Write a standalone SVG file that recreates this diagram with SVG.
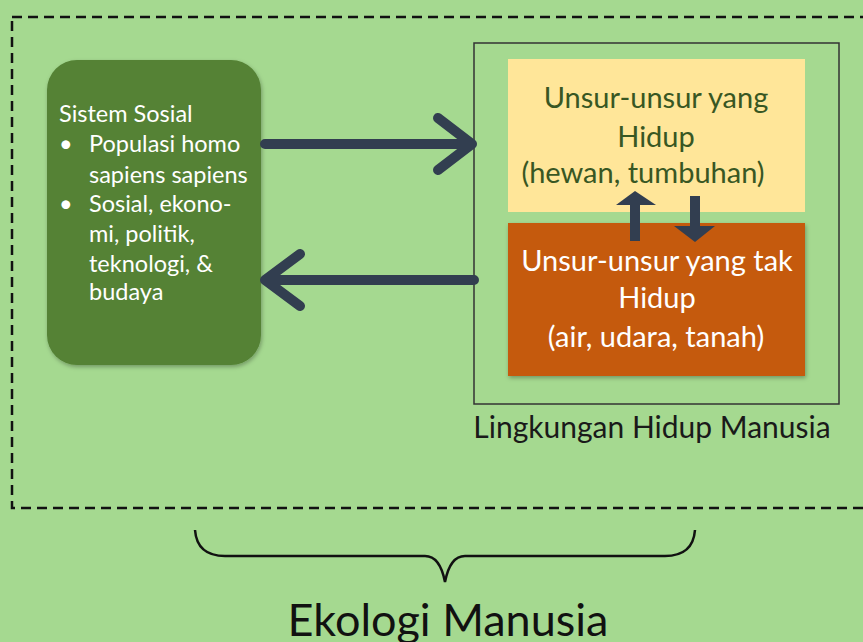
<svg xmlns="http://www.w3.org/2000/svg" width="863" height="642" viewBox="0 0 863 642">
<defs>
<style>
.t{font-family:Lato,"Open Sans","Liberation Sans",sans-serif}
.wh{fill:#ffffff}
.conn{stroke:#323E50;stroke-width:10;fill:none;stroke-linecap:round;stroke-linejoin:round}
</style>
<filter id="sh" x="-10%" y="-10%" width="120%" height="120%">
<feDropShadow dx="1" dy="2" stdDeviation="2" flood-color="#000" flood-opacity="0.3"/>
</filter>
</defs>
<rect x="0" y="0" width="863" height="642" fill="#A5D990"/>
<rect id="ekologi-frame" x="12" y="17" width="900" height="491" fill="none" stroke="#111" stroke-width="2.5" stroke-dasharray="10,6"/>
<g id="sistem-sosial">
<rect x="47" y="60" width="214" height="305" rx="30" fill="#548235" filter="url(#sh)"/>
<text class="t wh" font-size="23.5" x="59" y="122">Sistem Sosial</text>
<g class="t wh" font-size="23.5">
<text x="59" y="152">•</text>
<text x="89" y="152">Populasi homo</text>
<text x="89" y="183">sapiens sapiens</text>
<text x="59" y="212">•</text>
<text x="89" y="212">Sosial, ekono-</text>
<text x="89" y="242">mi, politik,</text>
<text x="89" y="272">teknologi, &amp;</text>
<text x="89" y="300">budaya</text>
</g>
</g>
<g id="lingkungan">
<rect x="474" y="43" width="365" height="361" fill="none" stroke="#333" stroke-width="1.5"/>
<text class="t" font-size="30" fill="#1a1a1a" x="652" y="438" text-anchor="middle">Lingkungan Hidup Manusia</text>
</g>
<g id="hidup">
<rect x="508" y="59" width="297" height="153" fill="#FFE699"/>
<g class="t" font-size="29" fill="#385723" text-anchor="middle">
<text x="656" y="108">Unsur-unsur yang</text>
<text x="656" y="147">Hidup</text>
<text x="643" y="183">(hewan, tumbuhan)</text>
</g>
</g>
<g id="tak-hidup">
<rect x="508" y="223" width="297" height="153" fill="#C55A11" filter="url(#sh)"/>
<g class="t wh" font-size="29" text-anchor="middle">
<text x="657" y="271">Unsur-unsur yang tak</text>
<text x="657" y="308">Hidup</text>
<text x="656" y="347">(air, udara, tanah)</text>
</g>
</g>
<g id="connectors">
<path class="conn" d="M265 144 H472 M438 118 L472 144 L438 170"/>
<path class="conn" d="M474 280 H265 M300 254 L265 280 L300 306"/>
<rect x="630" y="204" width="10" height="37" fill="#323E50"/>
<polygon points="616,205 656,205 635,191" fill="#323E50"/>
<rect x="690" y="196" width="10" height="31" fill="#323E50"/>
<polygon points="674,226 715,226 695,242" fill="#323E50"/>
</g>
<g id="ekologi-manusia">
<path d="M195 530 Q197 556 225 556 H425 Q440 556 445 582 Q450 556 465 556 H665 Q693 556 695 530" fill="none" stroke="#111" stroke-width="2.5"/>
<text class="t" font-size="45" fill="#111" x="448" y="636" text-anchor="middle">Ekologi Manusia</text>
</g>
</svg>
